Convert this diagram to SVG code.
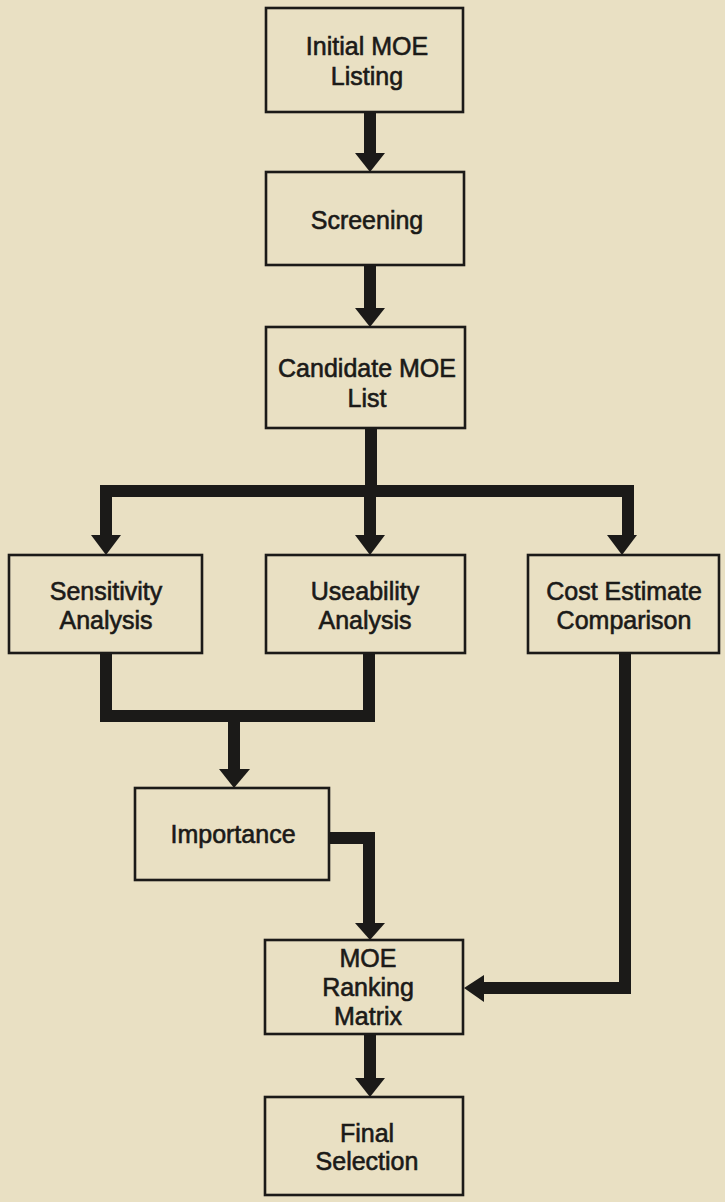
<svg xmlns="http://www.w3.org/2000/svg" width="725" height="1202" viewBox="0 0 725 1202">
<style>
.box{fill:none;stroke:#1b1a18;stroke-width:2.6}
.t{font-family:"Liberation Sans",Arial,Helvetica,sans-serif;font-size:25px;fill:#1b1a18;stroke:#1b1a18;stroke-width:0.6;text-anchor:middle}
.c{fill:none;stroke:#1b1a18;stroke-width:12;stroke-linejoin:miter;stroke-linecap:butt}
.h{fill:#1b1a18}
</style>
<rect width="725" height="1202" fill="#e9e0c3"/>
<g id="connectors">
<path class="c" d="M370,112V154"/>
<polygon class="h" points="355,153 385,153 370,172"/>
<path class="c" d="M370,265V309"/>
<polygon class="h" points="355,308 385,308 370,327"/>
<path class="c" d="M371,428V491"/>
<path class="c" d="M106,536V491H628V536"/>
<path class="c" d="M370,491V536"/>
<polygon class="h" points="91,535 121,535 106,555"/>
<polygon class="h" points="355,535 385,535 370,555"/>
<polygon class="h" points="607,535 637,535 622,555"/>
<path class="c" d="M106,653V716H369V653"/>
<path class="c" d="M234,716V770"/>
<polygon class="h" points="219,769 250,769 234,788"/>
<path class="c" d="M329,838H369V924"/>
<polygon class="h" points="355,923 385,923 370,940"/>
<path class="c" d="M625,653V988H482"/>
<polygon class="h" points="484,975 484,1002 464,988"/>
<path class="c" d="M370,1034V1079"/>
<polygon class="h" points="355,1078 385,1078 370,1097"/>
</g>
<g id="initial"><rect class="box" x="266" y="8" width="197" height="104"/><text class="t" x="367" y="55">Initial MOE</text><text class="t" x="367" y="85">Listing</text></g>
<g id="screening"><rect class="box" x="266" y="172" width="198" height="93"/><text class="t" x="367" y="229">Screening</text></g>
<g id="candidate"><rect class="box" x="266" y="327" width="199" height="101"/><text class="t" x="367" y="377">Candidate MOE</text><text class="t" x="367" y="407">List</text></g>
<g id="sensitivity"><rect class="box" x="9" y="555" width="193" height="98"/><text class="t" x="106" y="600">Sensitivity</text><text class="t" x="106" y="629">Analysis</text></g>
<g id="useability"><rect class="box" x="266" y="555" width="199" height="98"/><text class="t" x="365" y="600">Useability</text><text class="t" x="365" y="629">Analysis</text></g>
<g id="cost"><rect class="box" x="528" y="555" width="191" height="98"/><text class="t" x="624" y="600">Cost Estimate</text><text class="t" x="624" y="629">Comparison</text></g>
<g id="importance"><rect class="box" x="135" y="788" width="194" height="92"/><text class="t" x="233" y="843">Importance</text></g>
<g id="ranking"><rect class="box" x="265" y="940" width="198" height="94"/><text class="t" x="368" y="967">MOE</text><text class="t" x="368" y="996">Ranking</text><text class="t" x="368" y="1025">Matrix</text></g>
<g id="final"><rect class="box" x="265" y="1097" width="198" height="98"/><text class="t" x="367" y="1142">Final</text><text class="t" x="367" y="1170">Selection</text></g>
</svg>
